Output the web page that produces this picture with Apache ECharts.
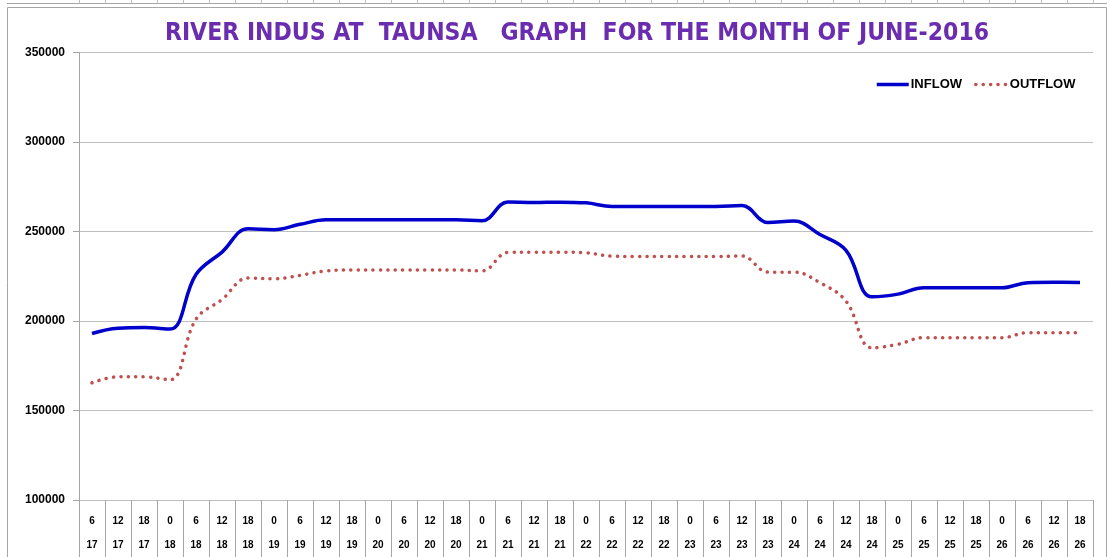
<!DOCTYPE html>
<html>
<head>
<meta charset="utf-8">
<script src="https://cdn.jsdelivr.net/npm/echarts@6/dist/echarts.min.js"></script>
<style>
  html, body { margin: 0; padding: 0; background: #fff; }
  #main { width: 1110px; height: 557px; }
</style>
</head>
<body>
<div id="main"></div>
<script>
// hour / day of each reading (June 2016)
var hours = ['6','12','18','0','6','12','18','0','6','12','18','0','6','12','18','0','6','12','18','0',
             '6','12','18','0','6','12','18','0','6','12','18','0','6','12','18','0','6','12','18'];
var days  = ['17','17','17','18','18','18','18','19','19','19','19','20','20','20','20','21','21','21','21','22',
             '22','22','22','23','23','23','23','24','24','24','24','25','25','25','25','26','26','26','26'];

var inflow  = [193000,196000,196300,195500,226000,238500,251500,251000,254000,256500,
               256500,256500,256500,256500,256500,256000,266500,266200,266400,266000,
               264000,264000,264000,264000,264000,264500,255000,255800,248300,239500,
               213500,215000,218600,218600,218600,218600,221400,221600,221500];
var outflow = [165500,168800,168800,167200,201000,212000,224000,223600,225500,228000,
               228500,228500,228500,228500,228500,228000,238300,238400,238400,238100,
               236200,236000,236000,236000,236000,236300,227300,227300,221400,211100,
               185000,187000,190700,190700,190700,190700,193500,193500,193500];

var yTicks = { min: 100000, max: 350000, step: 50000 };

var categories = hours.map(function (h, i) { return h + '\n' + days[i]; });

var chart = echarts.init(document.getElementById('main'));

// outer frame + edge of the chart above
var frame = [
  { type: 'line', shape: { x1: 7, y1: 3.5, x2: 1107, y2: 3.5 }, style: { stroke: '#A6A6A6', lineWidth: 1 }, silent: true },
  { type: 'rect', shape: { x: 7.5, y: 7.5, width: 1099, height: 560 }, style: { fill: 'none', stroke: '#A6A6A6', lineWidth: 1 }, silent: true }
];
for (var k = 0; k < 40; k++) {
  var tx = Math.round(79 + k * 26) + 0.5;
  frame.push({ type: 'line', shape: { x1: tx, y1: 0, x2: tx, y2: 3.5 }, style: { stroke: '#BFBFBF', lineWidth: 1 }, silent: true });
}

chart.setOption({
  animation: false,
  backgroundColor: '#fff',
  graphic: frame,
  title: {
    text: 'RIVER INDUS AT  TAUNSA   GRAPH  FOR THE MONTH OF JUNE-2016',
    left: 572,
    textAlign: 'center',
    top: 16,
    textStyle: {
      fontFamily: '"Liberation Sans Narrow", "DejaVu Sans Condensed", sans-serif',
      fontWeight: 'bold',
      fontSize: 24.5,
      color: '#6A2DB0'
    }
  },
  legend: {
    data: ['INFLOW', 'OUTFLOW'],
    left: 870,
    top: 73,
    itemWidth: 32,
    itemHeight: 14,
    itemGap: 12,
    itemStyle: { opacity: 0 },
    lineStyle: { width: 3.5 },
    textStyle: { fontFamily: '"Liberation Sans", sans-serif', fontWeight: 'bold', fontSize: 13, color: '#000', padding: [0, 0, 0, -3] }
  },
  grid: { left: 79, right: 17, top: 52.5, bottom: 56.5, containLabel: false },
  xAxis: {
    type: 'category',
    data: categories,
    boundaryGap: true,
    axisLine: { show: false },
    axisTick: { show: true, interval: 0, length: 60, lineStyle: { color: '#A6A6A6' } },
    axisLabel: {
      interval: 0,
      margin: 9,
      lineHeight: 24,
      fontFamily: '"Liberation Sans", sans-serif',
      fontWeight: 'bold',
      fontSize: 10,
      color: '#000'
    }
  },
  yAxis: {
    type: 'value',
    min: yTicks.min,
    max: yTicks.max,
    interval: yTicks.step,
    axisLine: { show: true, lineStyle: { color: '#A6A6A6' } },
    axisTick: { show: true, length: 6, lineStyle: { color: '#A6A6A6' } },
    splitLine: { show: true, lineStyle: { color: '#BFBFBF', width: 1 } },
    axisLabel: {
      margin: 14,
      formatter: function (v) { return String(v); },
      fontFamily: '"Liberation Sans", sans-serif',
      fontWeight: 'bold',
      fontSize: 12,
      color: '#000'
    }
  },
  series: [
    {
      name: 'INFLOW',
      type: 'line',
      data: inflow,
      smooth: 0.4,
      symbol: 'none',
      itemStyle: { color: '#0000CC' },
      lineStyle: { color: '#0000CC', width: 3.5 }
    },
    {
      name: 'OUTFLOW',
      type: 'line',
      data: outflow,
      smooth: 0.4,
      symbol: 'none',
      itemStyle: { color: '#C0504D' },
      lineStyle: { color: '#C0504D', width: 3.5, type: [0.1, 7.3], cap: 'round' }
    }
  ]
});
</script>
</body>
</html>
